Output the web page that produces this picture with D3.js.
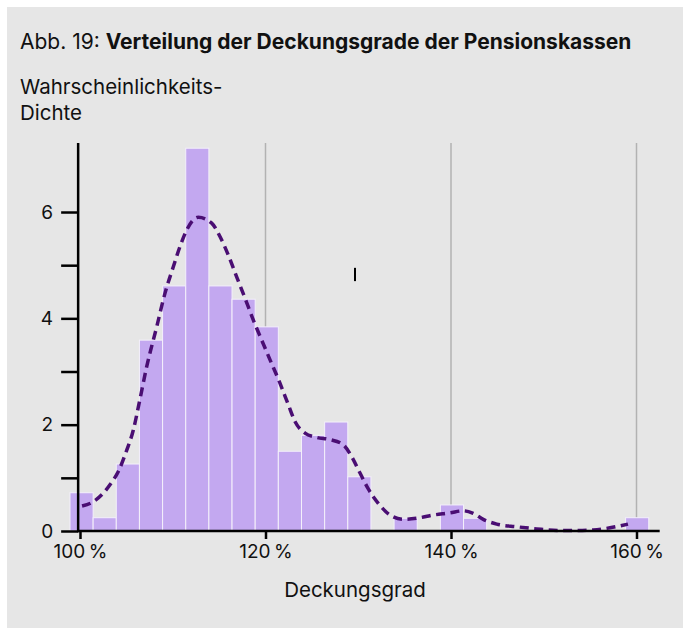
<!DOCTYPE html>
<html>
<head>
<meta charset="utf-8">
<script src="https://cdn.jsdelivr.net/npm/d3@7"></script>
<style>
  body { margin: 0; background: #fff; }
  svg { display: block; }
  text { font-family: Inter, "Noto Sans", sans-serif; fill: #111; }
</style>
</head>
<body>
<svg id="chart" width="683" height="628"></svg>
<script>
// Histogram: 25 bins of equal width, densities
const binStart = 98.92;
const binWidth = 2.496;
const densities = [0.72, 0.25, 1.26, 3.59, 4.61, 7.2, 4.61, 4.36, 3.84, 1.5, 1.8, 2.05, 1.02,
                   0, 0.24, 0, 0.49, 0.24, 0, 0, 0, 0, 0, 0, 0.25];

// Kernel density estimate (dashed line)
const kdeX = [100.22, 101.43, 102.34, 103.23, 104.13, 105.04, 105.75, 106.36, 107.19, 108.27,
              109.16, 110.06, 110.78, 111.5, 112.75, 114.2, 115.09, 115.99, 116.89, 117.79,
              118.68, 119.59, 120.49, 121.56, 122.43, 123.18, 124.26, 125.52, 126.95, 128.39,
              129.29, 130.19, 131.05, 132.16, 133.42, 134.86, 136.3, 138.09, 139.89, 141.33,
              142.4, 143.48, 144.93, 147.08, 149.24, 151.75, 153.55, 155.34, 157.14, 159.08];
const kdeY = [0.47, 0.55, 0.68, 0.87, 1.12, 1.52, 1.9, 2.39, 3.09, 3.84,
              4.47, 4.97, 5.35, 5.66, 5.9, 5.79, 5.54, 5.19, 4.78, 4.38,
              3.97, 3.59, 3.22, 2.78, 2.39, 2.06, 1.84, 1.76, 1.72, 1.62,
              1.4, 1.09, 0.8, 0.52, 0.3, 0.22, 0.24, 0.3, 0.34, 0.38,
              0.33, 0.22, 0.13, 0.08, 0.04, 0.01, 0.01, 0.02, 0.06, 0.13];

const xTicks = [100, 120, 140, 160];
const yTicks = [0, 1, 2, 3, 4, 5, 6];
const gridTicks = [120, 140, 160];

const title = 'Abb. 19: ';
const titleBold = 'Verteilung der Deckungsgrade der Pensionskassen';
const yLabel = ['Wahrscheinlichkeits-', 'Dichte'];
const xLabel = 'Deckungsgrad';

const svg = d3.select('#chart');

// grey panel
svg.append('rect')
  .attr('x', 7).attr('y', 7)
  .attr('width', 676).attr('height', 621)
  .attr('fill', '#e6e6e6');

const x = d3.scaleLinear().domain([100, 160]).range([80, 636.5]);
const y = d3.scaleLinear().domain([0, 7.3]).range([531, 142.9]);

const xMin = 99.8, xMax = 162.5;

// title and y label
const t = svg.append('text').attr('x', 20).attr('y', 48.5).style('font-size', '21px');
t.append('tspan').text(title);
t.append('tspan').style('font-weight', 700).text(titleBold);

svg.append('g').selectAll('text')
  .data(yLabel)
  .join('text')
  .attr('x', 20)
  .attr('y', (d, i) => 93.5 + i * 26.5)
  .style('font-size', '20.5px')
  .text(d => d);

// vertical grid
svg.append('g').selectAll('line')
  .data(gridTicks)
  .join('line')
  .attr('x1', d => x(d)).attr('x2', d => x(d))
  .attr('y1', y(7.3)).attr('y2', y(0))
  .attr('stroke', '#b2b2b2')
  .attr('stroke-width', 1.5);

// bars
svg.append('g').selectAll('rect')
  .data(densities.map((d, i) => ({ x0: binStart + i * binWidth, x1: binStart + (i + 1) * binWidth, d })))
  .join('rect')
  .filter(b => b.d > 0)
  .attr('x', b => x(b.x0))
  .attr('y', b => y(b.d))
  .attr('width', b => x(b.x1) - x(b.x0))
  .attr('height', b => y(0) - y(b.d))
  .attr('fill', '#c3a8f0')
  .attr('stroke', '#f4f0fb')
  .attr('stroke-width', 1);

// density line
const line = d3.line()
  .x(d => x(d[0]))
  .y(d => y(d[1]))
  .curve(d3.curveMonotoneX);

svg.append('path')
  .datum(kdeX.map((v, i) => [v, kdeY[i]]))
  .attr('d', line)
  .attr('fill', 'none')
  .attr('stroke', '#4a0e73')
  .attr('stroke-width', 3.5)
  .attr('stroke-dasharray', '9,5.5');

// y axis
const yAxis = d3.axisLeft(y)
  .tickValues(yTicks)
  .tickFormat(d => d % 2 === 0 ? d : '')
  .tickSize(17)
  .tickPadding(8);

const gy = svg.append('g')
  .attr('transform', `translate(${x(xMin)},0)`)
  .call(yAxis);
gy.select('.domain').remove();
gy.selectAll('line').attr('stroke', '#000').attr('stroke-width', 2.5);
gy.selectAll('text').style('font-size', '19px').attr('fill', '#111');

svg.append('line')
  .attr('x1', x(xMin)).attr('x2', x(xMin))
  .attr('y1', y(7.3)).attr('y2', y(0) + 1.25)
  .attr('stroke', '#000').attr('stroke-width', 2.5);

// x axis
const xAxis = d3.axisBottom(x)
  .tickValues(xTicks)
  .tickFormat(d => d + '\u2009%')
  .tickSize(8)
  .tickPadding(6);

const gx = svg.append('g')
  .attr('transform', `translate(0,${y(0)})`)
  .call(xAxis);
gx.select('.domain').remove();
gx.selectAll('line').attr('stroke', '#000').attr('stroke-width', 2.5);
gx.selectAll('text').style('font-size', '19px').attr('fill', '#111');

svg.append('line')
  .attr('x1', x(xMin)).attr('x2', x(xMax))
  .attr('y1', y(0)).attr('y2', y(0))
  .attr('stroke', '#000').attr('stroke-width', 2.5);

// stray mark in the plot
svg.append('line')
  .attr('x1', x(129.65)).attr('x2', x(129.65))
  .attr('y1', y(4.95)).attr('y2', y(4.7))
  .attr('stroke', '#000').attr('stroke-width', 2);

svg.append('text')
  .attr('x', 355)
  .attr('y', 597)
  .attr('text-anchor', 'middle')
  .style('font-size', '20.5px')
  .text(xLabel);
</script>
</body>
</html>
